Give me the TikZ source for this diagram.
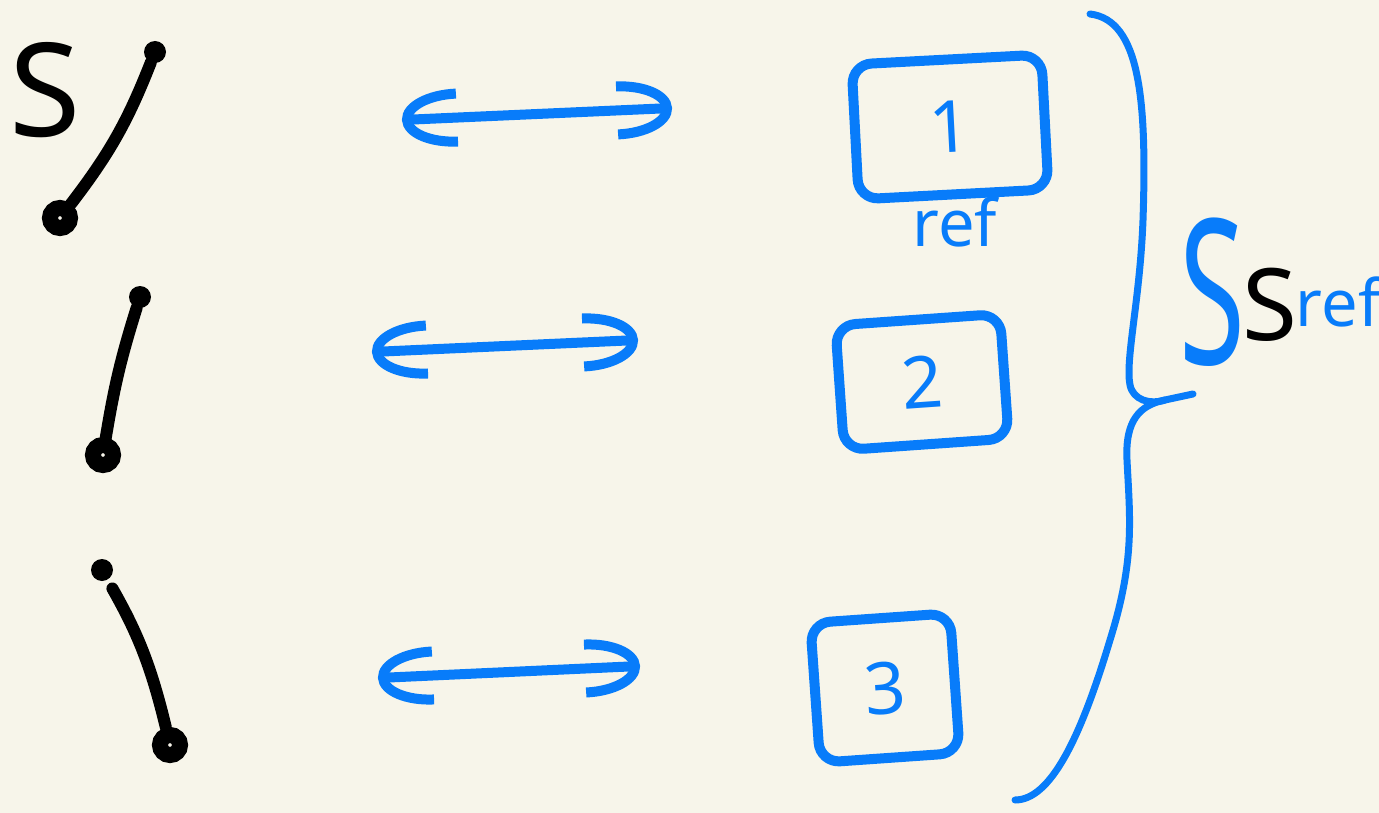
\documentclass[tikz,border=0pt]{standalone}
\usepackage{fontspec}
\setmainfont{Noto Sans}
\usetikzlibrary{arrows.meta}
\definecolor{paper}{RGB}{247,245,234}
\definecolor{pen}{RGB}{8,124,250}
\tikzset{
  ink/.style={line width=10pt,line cap=round,line join=round},
  ball/.style={circle,draw=black,line width=16pt,minimum size=20pt,inner sep=0pt},
  dot/.style={circle,fill=black,minimum size=22pt,inner sep=0pt},
  slot/.style={draw=pen,line width=10pt,rounded corners=20pt,text=pen,
    font=\fontsize{72}{72}\selectfont,inner sep=0pt},
  swap/.style={ink,draw=pen,{Arc Barb[length=55pt,width=58pt]}-{Arc Barb[length=55pt,width=58pt]}},
  hand/.style={font=\fontsize{#1}{#1}\selectfont,inner sep=0pt},
}
\begin{document}
\begin{tikzpicture}[x=1pt,y=-1pt]
  \fill[paper] (0,0) rectangle (1379,813);
  \useasboundingbox (0,0) rectangle (1379,813);
  % left: S with its three positions
  \node[hand=130] (s) at (45,90) {S};
  \node[dot] (d1) at (155,52) {};
  \node[ball] (b1) at (60,218) {};
  \node[dot] (d2) at (140,297) {};
  \node[ball] (b2) at (103,455) {};
  \node[dot] (d3) at (102,570) {};
  \node[ball] (b3) at (170,745) {};
  \draw[ink,line width=12pt] (d1) to[bend left=8] (b1);
  \draw[ink,line width=12pt] (d2) to[bend right=4] (b2);
  \draw[ink,line width=12pt,shorten <=10pt] (d3) to[bend left=8] (b3);
  % swaps
  \coordinate (l1) at (402,120); \coordinate (r1) at (672,108);
  \coordinate (l2) at (372,352); \coordinate (r2) at (638,340);
  \coordinate (l3) at (378,678); \coordinate (r3) at (640,666);
  \draw[swap] (l1) -- (r1);
  \draw[swap] (l2) -- (r2);
  \draw[swap] (l3) -- (r3);
  % boxes
  \node[slot,rotate=3,minimum width=190pt,minimum height=135pt] (box1) at (950,127) {1};
  \node[hand=65,text=pen] (ref1) at (955,222) {ref};
  \node[slot,rotate=4,minimum width=165pt,minimum height=125pt] (box2) at (922,382) {2};
  \node[slot,rotate=4,minimum width=140pt,minimum height=140pt] (box3) at (885,688) {3};
  % brace
  \coordinate (tip) at (1193,394);
  \draw[pen,line width=7pt,line cap=round]
    (1090,14) .. controls (1140,20) and (1147,100) .. (1143,220)
    .. controls (1140,300) and (1125,360) .. (1130,385)
    .. controls (1133,400) and (1150,405) .. (1165,400) -- (tip);
  \draw[pen,line width=7pt,line cap=round]
    (1165,400) .. controls (1140,405) and (1125,420) .. (1127,460)
    .. controls (1130,520) and (1135,560) .. (1110,640)
    .. controls (1080,740) and (1050,800) .. (1015,800);
  % label
  \node[hand=150,text=pen] (sb) at (1212,292) {\scalebox{.8}[1.35]{S}};
  \node[hand=100] (sk) at (1270,305) {S};
  \node[hand=65,text=pen] (ref2) at (1338,302) {ref};
\end{tikzpicture}
\end{document}
